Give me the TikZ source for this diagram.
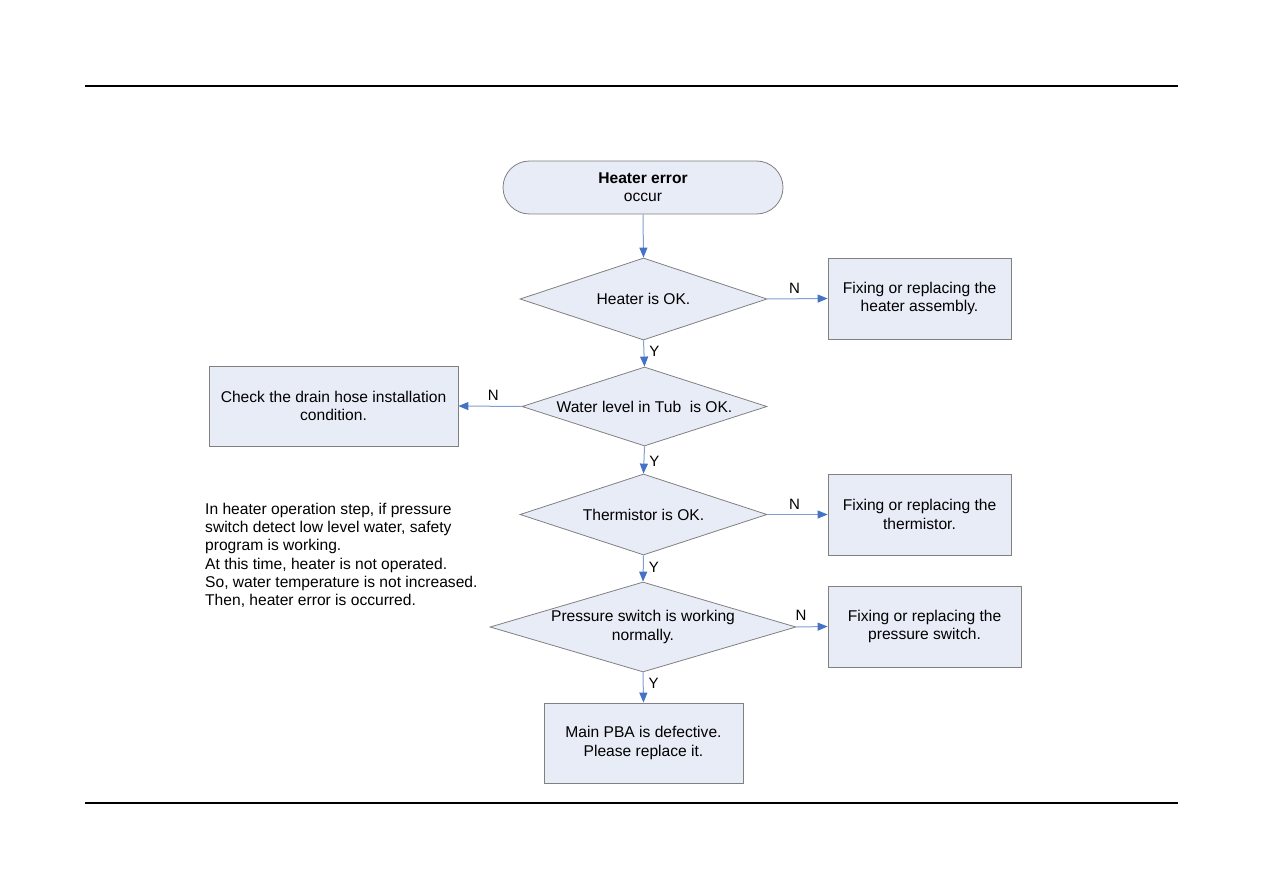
\documentclass[tikz,border=0pt]{standalone}
\usepackage{fontspec}
\setmainfont{Liberation Sans}
\usetikzlibrary{arrows.meta,shapes.geometric}
\definecolor{boxfill}{RGB}{232,236,247}
\definecolor{boxline}{RGB}{128,128,128}
\definecolor{arrline}{RGB}{130,158,210}
\definecolor{arrhead}{RGB}{68,114,196}
\tikzset{
  txt/.style={font=\fontsize{15.6}{18.2}\selectfont, align=center},
  box/.style={txt, draw=boxline, fill=boxfill, line width=0.8pt, inner sep=0pt},
  term/.style={box, rounded corners=26.5pt, minimum width=280pt, minimum height=53pt},
  dia/.style={diamond, draw=boxline, fill=boxfill, line width=0.8pt, inner sep=0pt},
  flow/.style={draw=arrline, line width=1pt, -{Triangle[length=10pt,width=8pt,color=arrhead]}},
  yn/.style={font=\fontsize{15}{15}\selectfont, inner sep=0pt},
  rule/.style={line width=1.6pt, black}
}
\begin{document}
\begin{tikzpicture}[x=1pt,y=-1pt]
\useasboundingbox (0,0) rectangle (1263,893);
\draw[rule] (85,86) -- (1178,86);
\draw[rule] (85,803) -- (1178,803);

\node[term] (t) at (643,187.5) {\textbf{Heater error}\\occur};

\node[dia, minimum width=247pt, minimum height=82pt, label={[txt]center:Heater is OK.}] (d1) at (643.5,299) {};
\node[box, minimum width=183pt, minimum height=81pt] (b1) at (919.5,298.5) {Fixing or replacing the\\heater assembly.};

\node[dia, minimum width=245pt, minimum height=79pt, label={[txt]center:Water level in Tub\ \ is OK.}] (d2) at (644.5,406.5) {};
\node[box, minimum width=249pt, minimum height=80pt] (b2) at (333.5,406) {Check the drain hose installation\\condition.};

\node[dia, minimum width=247pt, minimum height=81pt, label={[txt]center:Thermistor is OK.}] (d3) at (643.5,514.5) {};
\node[box, minimum width=183pt, minimum height=81pt] (b3) at (919.5,514.5) {Fixing or replacing the\\thermistor.};

\node[dia, minimum width=306pt, minimum height=90pt, label={[txt]center:Pressure switch is working\\normally.}] (d4) at (643,627) {};
\node[box, minimum width=193pt, minimum height=81pt] (b4) at (924.5,626.5) {Fixing or replacing the\\pressure switch.};

\node[box, minimum width=199pt, minimum height=80pt] (b5) at (643.5,743) {Main PBA is defective.\\Please replace it.};

\node[txt, align=left, anchor=north west, inner sep=0pt] (note) at (205,503) {In heater operation step, if pressure\\switch detect low level water, safety\\program is working.\\At this time, heater is not operated.\\So, water temperature is not increased.\\Then, heater error is occurred.};

\draw[flow] (t.south) -- (d1.north);
\draw[flow] (d1.east) -- (b1.west) node[yn, pos=0.45, above=5pt] (n1) {N};
\draw[flow] (d1.south) -- (d2.north) node[yn, pos=0.4, right=5pt] (y1) {Y};
\draw[flow] (d2.west) -- (b2.west -| b2.east) node[yn, pos=0.45, above=5pt] (n2) {N};
\draw[flow] (d2.south) -- (d3.north) node[yn, pos=0.55, right=5pt] (y2) {Y};
\draw[flow] (d3.east) -- (b3.west) node[yn, pos=0.45, above=5pt] (n3) {N};
\draw[flow] (d3.south) -- (d4.north) node[yn, pos=0.45, right=5pt] (y3) {Y};
\draw[flow] (d4.east) -- (b4.west) node[yn, pos=0.15, above=6pt] (n4) {N};
\draw[flow] (d4.south) -- (b5.north) node[yn, pos=0.35, right=5pt] (y4) {Y};
\end{tikzpicture}
\end{document}
